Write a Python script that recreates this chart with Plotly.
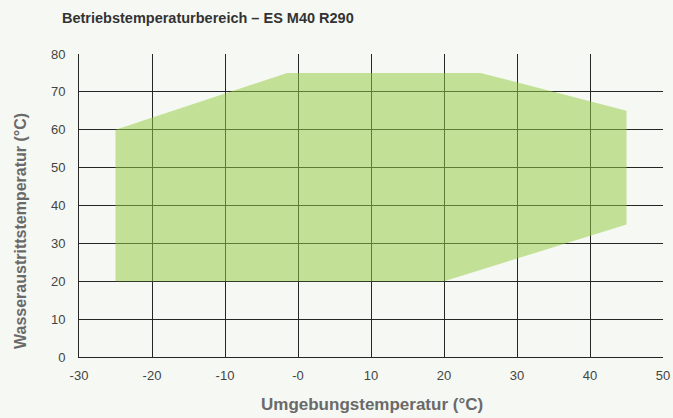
import plotly.graph_objects as go

# Operating envelope polygon (ambient temp °C, water outlet temp °C)
env_x = [-25, -25, -1.5, 25, 45, 45, 20, -25]
env_y = [20, 60, 75, 75, 65, 35, 20, 20]

x_tickvals = [-30, -20, -10, 0, 10, 20, 30, 40, 50]
x_ticktext = ["-30", "-20", "-10", "-0", "10", "20", "30", "40", "50"]
y_tickvals = [0, 10, 20, 30, 40, 50, 60, 70, 80]

title_text = "Betriebstemperaturbereich – ES M40 R290"
x_title = "Umgebungstemperatur (°C)"
y_title = "Wasseraustrittstemperatur (°C)"

bg = "#f6f8f3"
grid = "#262626"

fig = go.Figure()
fig.add_trace(go.Scatter(
    x=env_x, y=env_y, mode="lines", fill="toself",
    fillcolor="rgba(145,203,67,0.52)", line=dict(width=0),
    hoverinfo="skip", showlegend=False,
))

W, H = 673, 418
L, R, T, B = 79, 10, 54, 61
pw, ph = W - L - R, H - T - B

fig.update_layout(
    width=W, height=H,
    margin=dict(l=L, r=R, t=T, b=B, autoexpand=False),
    paper_bgcolor=bg, plot_bgcolor=bg,
    font=dict(family="Liberation Sans, Arial, sans-serif", color="#444444", size=13),
    title=dict(
        text=f"<b>{title_text}</b>",
        x=62/W, xanchor="left", y=1-18/H, yanchor="middle",
        font=dict(size=14.5, color="#333333"),
    ),
    xaxis=dict(
        range=[-30, 50], tickvals=x_tickvals, ticktext=x_ticktext,
        showgrid=True, gridcolor=grid, gridwidth=1,
        zeroline=False, showline=True, linecolor=grid, linewidth=1,
        ticks="", ticklen=0, ticklabelstandoff=6, automargin=False,
        fixedrange=True,
    ),
    yaxis=dict(
        range=[0, 80], tickvals=y_tickvals,
        showgrid=True, gridcolor=grid, gridwidth=1,
        zeroline=False, showline=True, linecolor=grid, linewidth=1,
        ticks="", ticklen=0, ticklabelstandoff=10, automargin=False,
        fixedrange=True,
    ),
    annotations=[
        dict(text=f"<b>{x_title}</b>", xref="paper", yref="paper",
             x=(372 - L) / pw, y=(H - B - 404) / ph, xanchor="center", yanchor="middle",
             showarrow=False, font=dict(size=17, color="#6a6a6a")),
        dict(text=f"<b>{y_title}</b>", xref="paper", yref="paper",
             x=(20 - L) / pw, y=(H - B - 231) / ph, xanchor="center", yanchor="middle",
             textangle=-90, showarrow=False, font=dict(size=16, color="#6a6a6a")),
    ],
)

fig.write_html(
    "out.html",
    config={"displayModeBar": False},
    post_script="document.body.style.margin='0';document.body.style.overflow='hidden';",
)
